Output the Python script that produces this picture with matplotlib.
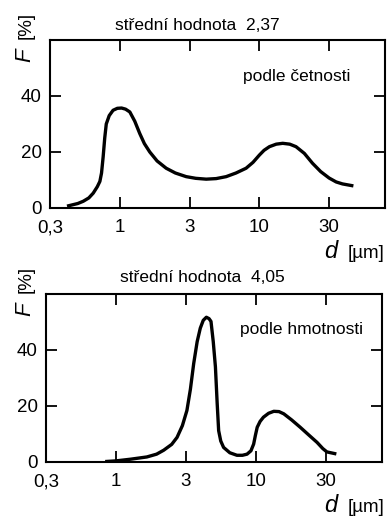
import matplotlib
matplotlib.use("Agg")
import matplotlib.pyplot as plt
import numpy as np

plt.rcParams['font.family'] = ['Liberation Sans', 'DejaVu Sans']

# x ticks (half-decade spacing), labels
xtick_vals = [10**-0.5, 1.0, 10**0.5, 10.0, 10**1.5]
xtick_labels = ["0,3", "1", "3", "10", "30"]
ytick_vals = [0, 20, 40]
ytick_labels = ["0", "20", "40"]

# upper panel: distribution by count (podle četnosti)
x_count = [0.43, 0.50, 0.547, 0.60, 0.645, 0.69, 0.72, 0.74, 0.76, 0.78, 0.80, 0.84,
           0.895, 0.96, 1.03, 1.10, 1.18, 1.28, 1.39, 1.50, 1.64, 1.85, 2.15, 2.5,
           2.99, 3.5, 4.16, 4.9, 5.78, 6.8, 8.03, 9.0, 10.0, 10.8, 11.8, 13.2, 14.7,
           16.5, 18.3, 21, 24, 27.5, 31.6, 35.5, 39.4, 45.9]
y_count = [0.8, 1.6, 2.4, 3.6, 5.3, 7.6, 9.5, 12.5, 18.3, 25, 30, 33,
           34.9, 35.6, 35.7, 35.3, 34.3, 31, 26.6, 23, 20, 16.8, 14.2, 12.5,
           11.2, 10.6, 10.3, 10.5, 11.2, 12.5, 14.2, 16.3, 18.9, 20.6, 21.9, 22.8, 23.1,
           22.8, 21.9, 19.5, 16, 13, 10.7, 9.3, 8.6, 8.0]

# lower panel: distribution by mass (podle hmotnosti)
x_mass = [0.86, 1.0, 1.27, 1.66, 1.95, 2.19, 2.5, 2.73, 2.98, 3.21, 3.40, 3.59, 3.80,
          4.0, 4.2, 4.42, 4.62, 4.77, 4.95, 5.13, 5.28, 5.41, 5.6, 5.87, 6.5, 7.31,
          8.0, 8.63, 9.2, 9.62, 9.9, 10.2, 10.7, 11.3, 12.3, 13.4, 14.6, 15.8, 18,
          20.7, 24, 27.3, 30, 32.1, 36.5]
y_mass = [0.2, 0.4, 1.0, 1.8, 2.8, 4.2, 6.3, 8.8, 13, 18.4, 26, 35.2, 43,
          47.8, 50.6, 51.7, 51.2, 50.2, 43, 34, 21, 11.2, 7.5, 5.2, 3.3, 2.4,
          2.4, 2.8, 4.0, 6.4, 9.5, 12.4, 14.5, 16, 17.4, 18.1, 18.0, 17.2, 15,
          12.4, 9.5, 7, 4.8, 3.6, 3.0]

W, H = 390, 517
fig = plt.figure(figsize=(W / 100, H / 100), dpi=100)


def px_axes(left, top, right, bottom):
    return fig.add_axes([left / W, 1 - bottom / H, (right - left) / W, (bottom - top) / H])


def fig_txt(xp, yp, s, **kw):
    fig.text(xp / W, 1 - yp / H, s, **kw)


def style(ax):
    ax.set_xscale('log')
    ax.set_xlim(10**-0.5, 10**1.9)
    ax.set_ylim(0, 60)
    ax.minorticks_off()
    ax.set_xticks(xtick_vals)
    ax.set_xticklabels(xtick_labels)
    ax.set_yticks(ytick_vals)
    ax.set_yticklabels(ytick_labels)
    ax.tick_params(axis='both', which='major', direction='in', length=8, width=1.3,
                   labelsize=13.5, top=True, right=True, color='black')
    ax.tick_params(axis='x', pad=8)
    ax.tick_params(axis='y', pad=6)
    for s in ax.spines.values():
        s.set_linewidth(1.5)


ax1 = px_axes(50, 40, 385, 208)
style(ax1)
ax1.plot(x_count, y_count, color='black', lw=2.4, solid_joinstyle='round')
fig_txt(197, 25, "střední hodnota  2,37", fontsize=12.5, ha='center', va='center')
ax1.text(0.575, 0.78, "podle četnosti", transform=ax1.transAxes, fontsize=12.5,
         ha='left', va='center')

ax2 = px_axes(46, 294, 382, 462)
style(ax2)
ax2.plot(x_mass, y_mass, color='black', lw=2.4, solid_joinstyle='round')
fig_txt(202, 277, "střední hodnota  4,05", fontsize=12.5, ha='center', va='center')
ax2.text(0.578, 0.79, "podle hmotnosti", transform=ax2.transAxes, fontsize=12.5,
         ha='left', va='center')

# y-axis labels (rotated)
for ytop in (0, 254):
    fig_txt(25, 55 + ytop, "F", rotation=90, fontsize=16, style='italic',
            ha='center', va='center')
    fig_txt(26, 25 + ytop, "[%]", rotation=90, fontsize=13.5,
            ha='center', va='center')

# x-axis labels
for yb in (258, 512):
    fig_txt(331, yb, "d", fontsize=17, style='italic', ha='center', va='baseline')
    fig_txt(366, yb, "[µm]", fontsize=13.5, ha='center', va='baseline')

fig.savefig("out.png", dpi=100)
